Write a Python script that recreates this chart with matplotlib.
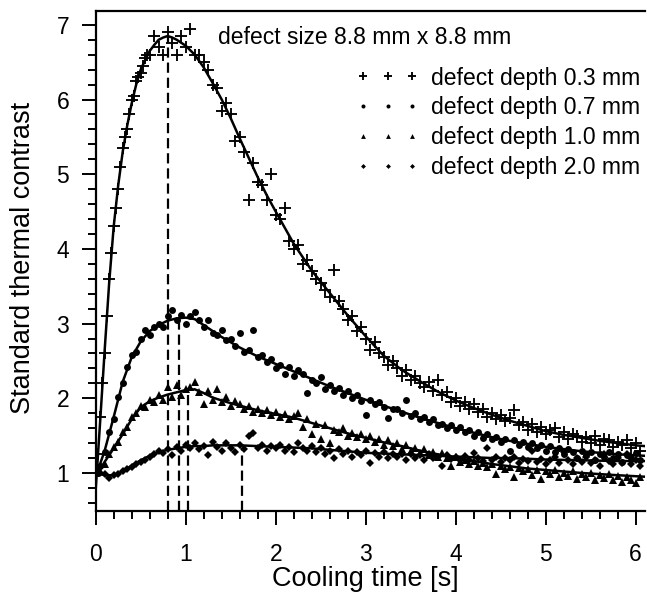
import numpy as np
import matplotlib
matplotlib.use("Agg")
import matplotlib.pyplot as plt
from matplotlib.ticker import MultipleLocator

plt.rcParams['font.family'] = ['Liberation Sans', 'DejaVu Sans']

# sampling step of the measured contrast (s)
DT = 0.05

# measured contrast, one value every DT seconds starting at t = 0
plus_03 = [1.00, 1.75, 2.60, 3.60, 4.30, 4.80, 5.35, 5.60, 6.00, 6.25,
           6.35, 6.55, 6.60, 6.85, 6.70, 6.60, 6.90, 6.75, 6.60, 6.85,
           6.70, 6.95, 6.60, 6.60, 6.50, 6.40, 6.20, 6.15, 5.85, 5.95,
           5.80, 5.45, 5.50, 5.30, 4.65, 5.15, 4.90, 4.85, 4.65, 5.00,
           4.45, 4.40, 4.55, 4.10, 4.00, 4.05, 3.80, 3.85, 3.70, 3.60,
           3.55, 3.45, 3.35, 3.72, 3.30, 3.20, 3.05, 3.10, 2.90, 2.95,
           2.80, 2.65, 2.75, 2.60, 2.55, 2.45, 2.50, 2.40, 2.30, 2.38,
           2.25, 2.30, 2.20, 2.15, 2.22, 2.10, 2.25, 2.05, 2.08, 1.95,
           2.00, 1.90, 1.95, 1.85, 1.92, 1.82, 1.86, 1.75, 1.80, 1.72,
           1.78, 1.70, 1.74, 1.84, 1.64, 1.68, 1.58, 1.65, 1.55, 1.62,
           1.52, 1.58, 1.60, 1.48, 1.55, 1.45, 1.52, 1.50, 1.42, 1.48,
           1.40, 1.50, 1.38, 1.45, 1.44, 1.35, 1.42, 1.38, 1.44, 1.33,
           1.40, 1.30]
# extra frames on the fast rise of the 0.3 mm curve
plus_03_rise_t = [0.025, 0.075, 0.125, 0.175, 0.225, 0.275, 0.325, 0.375,
                  0.425, 0.475, 0.525, 0.575]
plus_03_rise = [1.25, 2.20, 3.10, 3.95, 4.55, 5.10, 5.50, 5.80, 6.05, 6.30,
                6.45, 6.60]

dots_07 = [1.00, 1.10, 1.28, 1.55, 1.72, 2.02, 2.20, 2.42, 2.58, 2.62,
           2.80, 2.92, 2.85, 2.95, 3.00, 2.95, 3.10, 3.18, 3.05, 3.12,
           3.00, 3.10, 3.15, 3.05, 2.95, 3.05, 2.88, 2.85, 2.92, 2.78,
           2.80, 2.70, 2.87, 2.62, 2.65, 2.91, 2.55, 2.58, 2.48, 2.52,
           2.40, 2.45, 2.33, 2.42, 2.30, 2.38, 2.32, 2.07, 2.25, 2.20,
           2.28, 2.12, 2.18, 2.10, 2.14, 2.05, 2.10, 2.00, 2.04, 1.96,
           1.78, 1.98, 1.92, 1.95, 1.88, 1.74, 1.86, 1.85, 1.80, 1.98,
           1.76, 1.80, 1.72, 1.75, 1.68, 1.72, 1.64, 1.66, 1.60, 1.64,
           1.58, 1.62, 1.55, 1.58, 1.50, 1.55, 1.47, 1.52, 1.45, 1.48,
           1.42, 1.46, 1.30, 1.44, 1.38, 1.42, 1.35, 1.40, 1.33, 1.38,
           1.30, 1.36, 1.28, 1.34, 1.25, 1.32, 1.28, 1.20, 1.30, 1.24,
           1.28, 1.18, 1.26, 1.22, 1.28, 1.20, 1.25, 1.15, 1.24, 1.20,
           1.27, 1.18]

tri_10 = [1.00, 1.02, 1.12, 1.25, 1.35, 1.42, 1.55, 1.62, 1.75, 1.80,
          1.90, 1.88, 1.98, 1.95, 2.05, 1.98, 2.15, 2.02, 2.18, 2.05,
          2.12, 2.15, 2.22, 2.08, 1.92, 2.10, 1.98, 2.12, 1.95, 2.02,
          1.90, 1.96, 1.92, 1.85, 1.90, 1.82, 1.86, 1.80, 1.84, 1.78,
          1.82, 1.75, 1.79, 1.72, 1.76, 1.80, 1.62, 1.72, 1.52, 1.66,
          1.45, 1.64, 1.40, 1.58, 1.55, 1.60, 1.50, 1.54, 1.48, 1.52,
          1.45, 1.50, 1.42, 1.46, 1.38, 1.44, 1.36, 1.40, 1.32, 1.38,
          1.30, 1.34, 1.27, 1.32, 1.24, 1.28, 1.22, 1.27, 1.20, 1.10,
          1.22, 1.15, 1.18, 1.12, 1.16, 1.10, 1.14, 1.08, 1.12, 0.98,
          1.10, 1.05, 1.08, 0.95, 1.06, 1.02, 1.05, 0.97, 1.04, 0.92,
          1.02, 0.98, 1.04, 0.94, 1.00, 0.96, 1.02, 0.92, 0.98, 0.95,
          1.00, 0.90, 0.97, 0.93, 0.99, 0.90, 0.96, 0.88, 0.95, 0.90,
          0.87, 0.94]

dia_20 = [1.00, 1.00, 0.98, 0.93, 0.97, 0.98, 1.02, 1.05, 1.08, 1.12,
          1.15, 1.18, 1.22, 1.25, 1.30, 1.27, 1.32, 1.24, 1.35, 1.30,
          1.38, 1.33, 1.40, 1.32, 1.36, 1.24, 1.42, 1.35, 1.30, 1.40,
          1.34, 1.28, 1.38, 1.32, 1.49, 1.53, 1.34, 1.38, 1.30, 1.36,
          1.33, 1.37, 1.30, 1.35, 1.28, 1.40, 1.33, 1.30, 1.36, 1.28,
          1.33, 1.25, 1.30, 1.20, 1.32, 1.26, 1.30, 1.22, 1.28, 1.24,
          1.30, 1.13, 1.27, 1.22, 1.28, 1.20, 1.26, 1.22, 1.25, 1.18,
          1.26, 1.20, 1.24, 1.18, 1.25, 1.20, 1.22, 1.10, 1.24, 1.19,
          1.22, 1.17, 1.23, 1.18, 1.27, 1.20, 1.16, 1.34, 1.18, 1.22,
          1.15, 1.20, 1.17, 1.21, 1.14, 1.19, 1.16, 1.30, 1.15, 1.19,
          1.12, 1.18, 1.22, 1.14, 1.28, 1.17, 1.12, 1.20, 1.15, 1.22,
          1.13, 1.18, 1.10, 1.25, 1.16, 1.12, 1.20, 1.14, 1.26, 1.12,
          1.18, 1.10]

# fitted curves
fit_03_t = [0, 0.05, 0.1, 0.15, 0.2, 0.25, 0.3, 0.35, 0.4, 0.45, 0.5, 0.55,
            0.6, 0.65, 0.7, 0.75, 0.8, 0.85, 0.9, 0.95, 1.0, 1.1, 1.2, 1.3,
            1.4, 1.5, 1.6, 1.7, 1.8, 1.9, 2.0, 2.2, 2.4, 2.6, 2.8, 3.0, 3.2,
            3.4, 3.6, 3.8, 4.0, 4.2, 4.4, 4.6, 4.8, 5.0, 5.2, 5.4, 5.6, 5.8,
            6.0, 6.1]
fit_03 = [0.78, 1.7, 2.65, 3.55, 4.3, 4.85, 5.3, 5.65, 5.95, 6.2, 6.4, 6.53,
          6.65, 6.73, 6.8, 6.83, 6.85, 6.83, 6.8, 6.76, 6.72, 6.6, 6.43, 6.22,
          6.0, 5.75, 5.48, 5.22, 4.96, 4.72, 4.5, 4.07, 3.71, 3.41, 3.11, 2.83,
          2.57, 2.38, 2.23, 2.09, 1.97, 1.87, 1.78, 1.7, 1.63, 1.56, 1.51,
          1.47, 1.43, 1.4, 1.37, 1.36]

fit_t = [0, 0.1, 0.2, 0.3, 0.4, 0.5, 0.6, 0.7, 0.8, 0.9, 1.0, 1.1, 1.2, 1.3,
         1.4, 1.6, 1.8, 2.0, 2.2, 2.4, 2.6, 2.8, 3.0, 3.2, 3.4, 3.6, 3.8, 4.0,
         4.2, 4.4, 4.6, 4.8, 5.0, 5.4, 5.8, 6.1]
fit_07 = [0.95, 1.3, 1.75, 2.22, 2.55, 2.76, 2.9, 2.98, 3.04, 3.07, 3.08, 3.06,
          2.98, 2.9, 2.82, 2.68, 2.56, 2.46, 2.36, 2.26, 2.16, 2.07, 1.98, 1.9,
          1.82, 1.74, 1.67, 1.6, 1.54, 1.48, 1.43, 1.39, 1.35, 1.29, 1.25, 1.23]
fit_10 = [0.95, 1.15, 1.33, 1.52, 1.72, 1.88, 1.96, 2.01, 2.05, 2.08, 2.11,
          2.12, 2.07, 2.01, 1.97, 1.9, 1.84, 1.79, 1.74, 1.67, 1.6, 1.53, 1.47,
          1.41, 1.36, 1.3, 1.25, 1.2, 1.16, 1.12, 1.09, 1.06, 1.04, 1.0, 0.97,
          0.95]
fit_20 = [1.0, 0.97, 0.97, 1.02, 1.1, 1.17, 1.23, 1.28, 1.31, 1.33, 1.35, 1.36,
          1.36, 1.37, 1.37, 1.37, 1.36, 1.35, 1.34, 1.33, 1.31, 1.29, 1.27,
          1.26, 1.25, 1.24, 1.23, 1.22, 1.21, 1.2, 1.2, 1.19, 1.18, 1.17, 1.16,
          1.16]

# time of maximum contrast for each depth
peak_t = [0.80, 0.92, 1.02, 1.62]
peak_c = [6.85, 3.07, 2.11, 1.32]

labels = ["defect depth 0.3 mm", "defect depth 0.7 mm",
          "defect depth 1.0 mm", "defect depth 2.0 mm"]

Y_MIN, Y_MAX = 0.491, 7.185

fig = plt.figure(figsize=(6.47, 5.96), dpi=100)
ax = fig.add_axes([95.7 / 647, 85 / 596, 549 / 647, 500 / 596])


def times(vals):
    return np.arange(len(vals)) * DT


h1, = ax.plot(np.concatenate([times(plus_03), plus_03_rise_t]),
              np.concatenate([plus_03, plus_03_rise]),
              linestyle='none', marker='+', ms=9, mew=1.35, color='black')
h2, = ax.plot(times(dots_07), dots_07, linestyle='none', marker='o', ms=5,
              mew=0, color='black')
h3, = ax.plot(times(tri_10), tri_10, linestyle='none', marker='^', ms=6,
              mew=0, color='black')
h4, = ax.plot(times(dia_20), dia_20, linestyle='none', marker='D', ms=4.3,
              mew=0, color='black')

for ft, fv in [(fit_03_t, fit_03), (fit_t, fit_07), (fit_t, fit_10),
               (fit_t, fit_20)]:
    ax.plot(ft, fv, color='black', lw=1.8, zorder=3)

ax.vlines(peak_t, Y_MIN, peak_c, colors='black', lw=1.6,
          linestyles=(0, (4.6, 2.2)), zorder=3)

ax.set_xlim(0, 6.1)
ax.set_ylim(Y_MIN, Y_MAX)
ax.xaxis.set_major_locator(MultipleLocator(1))
ax.xaxis.set_minor_locator(MultipleLocator(0.2))
ax.yaxis.set_major_locator(MultipleLocator(1))
ax.yaxis.set_minor_locator(MultipleLocator(0.2))
ax.set_yticks([1, 2, 3, 4, 5, 6, 7])

ax.tick_params(which='major', direction='out', length=10, width=1.4,
               labelsize=16.5, color='black')
ax.tick_params(which='minor', direction='out', length=6, width=1.4)
ax.tick_params(axis='y', which='major', pad=9)
ax.tick_params(axis='x', which='major', pad=13)

for side in ['left', 'bottom', 'top']:
    ax.spines[side].set_linewidth(1.6)
ax.spines['right'].set_visible(False)

ax.set_xlabel("Cooling time [s]", fontsize=19.5)
ax.set_ylabel("Standard thermal contrast", fontsize=19.5)
ax.xaxis.set_label_coords(0.491, -0.11)
ax.yaxis.set_label_coords(-0.108, 0.506)

ax.text(0.2228, 0.948, "defect size 8.8 mm x 8.8 mm", transform=ax.transAxes,
        fontsize=16.5, ha='left', va='center')

ax.legend([h1, h2, h3, h4], labels, loc='upper left',
          bbox_to_anchor=(0.474, 0.889), frameon=False, fontsize=16.5,
          numpoints=3, markerscale=0.58, handlelength=2.76,
          handletextpad=0.5, labelspacing=0.3, borderpad=0,
          borderaxespad=0)

fig.savefig("out.png", dpi=100)
